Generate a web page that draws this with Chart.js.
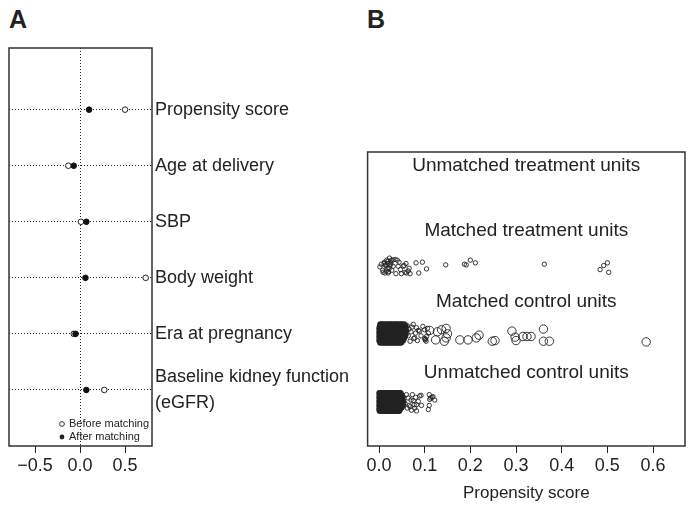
<!DOCTYPE html>
<html>
<head>
<meta charset="utf-8">
<script src="https://cdn.jsdelivr.net/npm/chart.js@4"></script>
<style>
  body { margin: 0; background: #fff; width: 694px; height: 510px; position: relative; overflow: hidden;
         font-family: "Liberation Sans", Arial, sans-serif; }
  canvas { position: absolute; top: 0; }
  #chartA { left: 0; }
  #chartB { left: 362px; }
  .tag { position: absolute; top: 5px; font-weight: bold; font-size: 25px; color: #222; }
</style>
</head>
<body>
<div class="tag" style="left:9px">A</div>
<div class="tag" style="left:367px">B</div>
<canvas id="chartA" width="362" height="510"></canvas>
<canvas id="chartB" width="332" height="510"></canvas>
<script>
// ---- Panel A: standardized mean differences ----
const rowLabels = ['Propensity score', 'Age at delivery', 'SBP', 'Body weight', 'Era at pregnancy',
  ['Baseline kidney function', '(eGFR)']];
const rowPositions = [6, 5, 4, 3, 2, 1];
const smdBefore = [0.50, -0.13, 0.01, 0.73, -0.07, 0.27];
const smdAfter = [0.10, -0.07, 0.07, 0.06, -0.05, 0.07];
const xTicksA = [-0.5, 0, 0.5];

// ---- Panel B: propensity score jitter plot ----
const xTicksB = [0, 0.1, 0.2, 0.3, 0.4, 0.5, 0.6];
const groupLabels = ['Unmatched treatment units', 'Matched treatment units', 'Matched control units', 'Unmatched control units'];
const groupRows = [4, 3, 2, 1];
const labelRows = [4.5, 3.53, 2.49, 1.44];

// [score, vertical jitter]
const matchedTreatment = [
  [0.002, 0.00], [0.008, -0.05], [0.011, 0.05], [0.013, -0.09], [0.015, 0.02], [0.017, 0.10],
  [0.018, -0.02], [0.020, 0.05], [0.021, -0.07], [0.023, 0.13], [0.024, 0.03], [0.025, 0.07],
  [0.028, -0.05], [0.030, 0.10], [0.031, 0.01], [0.035, 0.11], [0.037, -0.10], [0.040, 0.10],
  [0.042, 0.01], [0.044, 0.07], [0.047, -0.04], [0.049, -0.10], [0.053, 0.01], [0.055, 0.02],
  [0.057, -0.08], [0.059, 0.05], [0.060, -0.09], [0.064, -0.06], [0.066, -0.02], [0.068, -0.10],
  [0.014, 0.03], [0.019, 0.08], [0.022, -0.03], [0.026, 0.04], [0.016, -0.06], [0.012, 0.07],
  [0.027, 0.10], [0.020, -0.09], [0.009, -0.08], [0.005, 0.04],
  [0.081, 0.06], [0.095, 0.07], [0.104, -0.03], [0.087, -0.09], [0.146, 0.03], [0.187, 0.04],
  [0.191, 0.03], [0.200, 0.10], [0.211, 0.06], [0.362, 0.04], [0.484, -0.04], [0.492, 0.02],
  [0.500, 0.06], [0.503, -0.08]
];

// dense part of matched controls: [jitter, scores in that band]
const matchedControlBlock = [
  [0.15, [0.003, 0.007, 0.011, 0.016, 0.020, 0.024, 0.028, 0.033, 0.037, 0.041, 0.046, 0.050, 0.055]],
  [0.12, [0.002, 0.006, 0.010, 0.014, 0.018, 0.022, 0.026, 0.030, 0.034, 0.038, 0.042, 0.046, 0.050, 0.054, 0.058]],
  [0.09, [0.001, 0.005, 0.009, 0.013, 0.017, 0.021, 0.025, 0.029, 0.033, 0.037, 0.041, 0.045, 0.049, 0.053, 0.057]],
  [0.06, [0.002, 0.006, 0.010, 0.014, 0.018, 0.023, 0.027, 0.031, 0.035, 0.039, 0.043, 0.047, 0.051, 0.055, 0.059]],
  [0.03, [0.001, 0.005, 0.009, 0.013, 0.017, 0.021, 0.025, 0.029, 0.033, 0.037, 0.041, 0.045, 0.049, 0.053, 0.057]],
  [0.00, [0.002, 0.006, 0.010, 0.014, 0.018, 0.022, 0.026, 0.030, 0.034, 0.038, 0.042, 0.046, 0.050, 0.054, 0.058]],
  [-0.03, [0.001, 0.005, 0.009, 0.013, 0.017, 0.021, 0.025, 0.029, 0.033, 0.037, 0.041, 0.045, 0.049, 0.053, 0.056]],
  [-0.06, [0.002, 0.006, 0.010, 0.014, 0.018, 0.022, 0.026, 0.030, 0.034, 0.038, 0.042, 0.046, 0.050, 0.054]],
  [-0.09, [0.001, 0.005, 0.009, 0.013, 0.017, 0.021, 0.025, 0.029, 0.033, 0.037, 0.041, 0.045, 0.049, 0.052]],
  [-0.12, [0.003, 0.008, 0.012, 0.016, 0.020, 0.024, 0.028, 0.032, 0.036, 0.040, 0.044, 0.048]]
];
const matchedControlLow = [
  [0.062, 0.13], [0.064, -0.02], [0.066, 0.08], [0.068, -0.10], [0.070, 0.04], [0.072, 0.11],
  [0.075, 0.15], [0.076, -0.06], [0.078, -0.05], [0.080, 0.02], [0.082, 0.10], [0.084, -0.09],
  [0.086, 0.06], [0.089, 0.05], [0.092, -0.02], [0.096, 0.12], [0.100, 0.07], [0.100, -0.06],
  [0.101, -0.08], [0.102, -0.07], [0.103, -0.10], [0.104, -0.03], [0.106, 0.09], [0.108, 0.02]
];
const matchedControlHigh = [
  [0.111, 0.06], [0.124, -0.08], [0.128, 0.04], [0.137, 0.07], [0.147, 0.09], [0.150, 0.01],
  [0.147, -0.05], [0.143, -0.10], [0.177, -0.08], [0.195, -0.08], [0.213, -0.05], [0.219, -0.01],
  [0.248, -0.10], [0.254, -0.09], [0.291, 0.05], [0.298, -0.04], [0.300, -0.09], [0.315, -0.03],
  [0.324, -0.03], [0.333, -0.03], [0.360, 0.08], [0.360, -0.10], [0.373, -0.10], [0.585, -0.11]
];

const unmatchedControlBlock = [
  [0.13, [0.001, 0.005, 0.009, 0.013, 0.018, 0.022, 0.026, 0.030, 0.034, 0.038, 0.043, 0.047]],
  [0.10, [0.002, 0.006, 0.010, 0.014, 0.017, 0.021, 0.025, 0.029, 0.033, 0.037, 0.041, 0.045, 0.049]],
  [0.07, [0.001, 0.004, 0.008, 0.012, 0.016, 0.020, 0.024, 0.028, 0.032, 0.036, 0.040, 0.044, 0.048, 0.051]],
  [0.04, [0.002, 0.006, 0.010, 0.014, 0.018, 0.022, 0.026, 0.031, 0.035, 0.039, 0.043, 0.047, 0.050]],
  [0.01, [0.001, 0.005, 0.009, 0.013, 0.017, 0.021, 0.025, 0.029, 0.033, 0.037, 0.041, 0.045, 0.049, 0.053]],
  [-0.02, [0.002, 0.006, 0.010, 0.014, 0.018, 0.023, 0.027, 0.031, 0.035, 0.039, 0.042, 0.046, 0.050]],
  [-0.05, [0.001, 0.004, 0.008, 0.012, 0.016, 0.020, 0.024, 0.028, 0.032, 0.036, 0.040, 0.044, 0.048, 0.052]],
  [-0.08, [0.002, 0.006, 0.010, 0.014, 0.019, 0.023, 0.027, 0.031, 0.035, 0.038, 0.042, 0.046, 0.049]],
  [-0.11, [0.001, 0.005, 0.009, 0.013, 0.017, 0.021, 0.025, 0.029, 0.033, 0.037, 0.041, 0.045]],
  [-0.13, [0.002, 0.007, 0.012, 0.016, 0.020, 0.024, 0.028, 0.032, 0.036, 0.040, 0.044]]
];
const unmatchedControl = [
  [0.053, 0.08], [0.057, -0.02], [0.060, 0.11], [0.062, -0.09], [0.064, 0.06], [0.066, -0.05],
  [0.068, -0.07], [0.070, 0.03], [0.071, -0.12], [0.073, 0.11], [0.075, 0.02], [0.077, -0.04],
  [0.078, -0.09], [0.080, 0.07], [0.082, -0.13], [0.082, -0.04], [0.086, 0.01], [0.089, 0.09],
  [0.092, 0.10], [0.093, -0.05], [0.108, -0.11], [0.110, 0.11], [0.110, -0.05], [0.111, 0.04],
  [0.113, 0.06], [0.116, 0.07], [0.118, 0.08], [0.122, 0.03]
];

Chart.defaults.font.family = "'Liberation Sans', Arial, sans-serif";
Chart.defaults.color = '#222';

function pairsToPoints(pairs, level) {
  return pairs.map(([s, j]) => ({ x: s, y: level + j }));
}
function blockToPoints(rows, level) {
  const pts = [];
  rows.forEach(([j, scores]) => scores.forEach(s => pts.push({ x: s, y: level + j })));
  return pts;
}

const boxPlugin = {
  id: 'box',
  afterDraw(chart) {
    const { ctx, chartArea: a } = chart;
    ctx.save();
    ctx.strokeStyle = '#333';
    ctx.lineWidth = 1.5;
    ctx.strokeRect(a.left, a.top, a.right - a.left, a.bottom - a.top);
    ctx.restore();
  }
};

const legendA = {
  id: 'legendA',
  afterDraw(chart) {
    const { ctx, chartArea: a } = chart;
    ctx.save();
    ctx.font = "11px 'Liberation Sans', Arial, sans-serif";
    ctx.textBaseline = 'middle';
    ctx.fillStyle = '#222';
    ctx.strokeStyle = '#222';
    ctx.lineWidth = 0.9;
    const items = [['Before matching', false, a.bottom - 22], ['After matching', true, a.bottom - 9]];
    items.forEach(([txt, filled, y]) => {
      ctx.beginPath();
      ctx.arc(a.right - 90, y, 2.4, 0, Math.PI * 2);
      if (filled) ctx.fill(); else ctx.stroke();
      ctx.fillText(txt, a.right - 83, y);
    });
    ctx.restore();
  }
};

const groupText = {
  id: 'groupText',
  afterDraw(chart) {
    const { ctx, chartArea: a, scales } = chart;
    ctx.save();
    ctx.font = "19px 'Liberation Sans', Arial, sans-serif";
    ctx.fillStyle = '#222';
    ctx.textAlign = 'center';
    ctx.textBaseline = 'middle';
    groupLabels.forEach((txt, i) => {
      ctx.fillText(txt, (a.left + a.right) / 2, scales.y.getPixelForValue(labelRows[i]));
    });
    ctx.restore();
  }
};

new Chart(document.getElementById('chartA'), {
  type: 'scatter',
  data: {
    datasets: [
      {
        label: 'After matching',
        data: smdAfter.map((v, i) => ({ x: v, y: rowPositions[i] })),
        pointRadius: 2.8,
        backgroundColor: '#111',
        borderColor: '#111',
        borderWidth: 1
      },
      {
        label: 'Before matching',
        data: smdBefore.map((v, i) => ({ x: v, y: rowPositions[i] })),
        pointRadius: 2.8,
        backgroundColor: '#fff',
        borderColor: '#222',
        borderWidth: 1
      }
    ]
  },
  options: {
    responsive: false,
    animation: false,
    events: [],
    layout: { padding: { left: 9, top: 48, right: 0, bottom: 0 } },
    plugins: { legend: { display: false }, tooltip: { enabled: false } },
    scales: {
      x: {
        type: 'linear',
        min: -0.79,
        max: 0.8,
        afterBuildTicks: s => { s.ticks = xTicksA.map(v => ({ value: v })); },
        afterFit: s => { s.height = 64; },
        ticks: {
          font: { size: 18 },
          padding: 2,
          maxRotation: 0,
          callback: v => (v < 0 ? '\u2212' + Math.abs(v).toFixed(1) : v.toFixed(1))
        },
        grid: {
          color: c => (c.tick && c.tick.value === 0 ? '#222' : 'rgba(0,0,0,0)'),
          tickColor: '#222',
          tickLength: 7
        },
        border: { display: false, dash: [1, 2] }
      },
      y: {
        type: 'linear',
        position: 'right',
        min: 0,
        max: 7.1,
        afterBuildTicks: s => { s.ticks = rowPositions.map(v => ({ value: v })); },
        afterFit: s => { s.width = 210; },
        ticks: {
          font: { size: 18, lineHeight: 1.45 },
          padding: 3,
          callback: v => rowLabels[rowPositions.indexOf(v)]
        },
        grid: { color: '#222', drawTicks: false },
        border: { display: false, dash: [1, 2] }
      }
    }
  },
  plugins: [boxPlugin, legendA]
});

const bPoint = { pointStyle: 'circle', backgroundColor: 'rgba(0,0,0,0)', borderColor: '#222', borderWidth: 0.9 };
const bBlock = { pointStyle: 'circle', backgroundColor: 'rgba(0,0,0,0)', borderColor: '#222', borderWidth: 1.6 };

new Chart(document.getElementById('chartB'), {
  type: 'scatter',
  data: {
    datasets: [
      Object.assign({ label: 'Matched treatment units', data: pairsToPoints(matchedTreatment, groupRows[1]), pointRadius: 2.2 }, bPoint),
      Object.assign({ label: 'Matched control units (dense)', data: blockToPoints(matchedControlBlock, groupRows[2]), pointRadius: 2.4 }, bBlock),
      Object.assign({ label: 'Matched control units', data: pairsToPoints(matchedControlLow, groupRows[2]), pointRadius: 2.2 }, bPoint),
      Object.assign({ label: 'Matched control units (weighted)', data: pairsToPoints(matchedControlHigh, groupRows[2]), pointRadius: 4.2 }, bPoint),
      Object.assign({ label: 'Unmatched control units (dense)', data: blockToPoints(unmatchedControlBlock, groupRows[3]), pointRadius: 2.4 }, bBlock),
      Object.assign({ label: 'Unmatched control units', data: pairsToPoints(unmatchedControl, groupRows[3]), pointRadius: 2.2 }, bPoint)
    ]
  },
  options: {
    responsive: false,
    animation: false,
    events: [],
    layout: { padding: { left: 4, top: 152, right: 9, bottom: 0 } },
    plugins: { legend: { display: false }, tooltip: { enabled: false } },
    scales: {
      x: {
        type: 'linear',
        min: -0.025,
        max: 0.67,
        afterBuildTicks: s => { s.ticks = xTicksB.map(v => ({ value: v })); },
        afterFit: s => { s.height = 64; },
        ticks: { font: { size: 18 }, padding: 2, maxRotation: 0, callback: v => v.toFixed(1) },
        grid: { drawOnChartArea: false, color: '#222', tickLength: 7 },
        border: { display: false },
        title: { display: true, text: 'Propensity score', font: { size: 17 }, color: '#222', padding: { top: 2, bottom: 6 } }
      },
      y: { type: 'linear', display: false, min: 0.35, max: 4.7 }
    }
  },
  plugins: [boxPlugin, groupText]
});
</script>
</body>
</html>
